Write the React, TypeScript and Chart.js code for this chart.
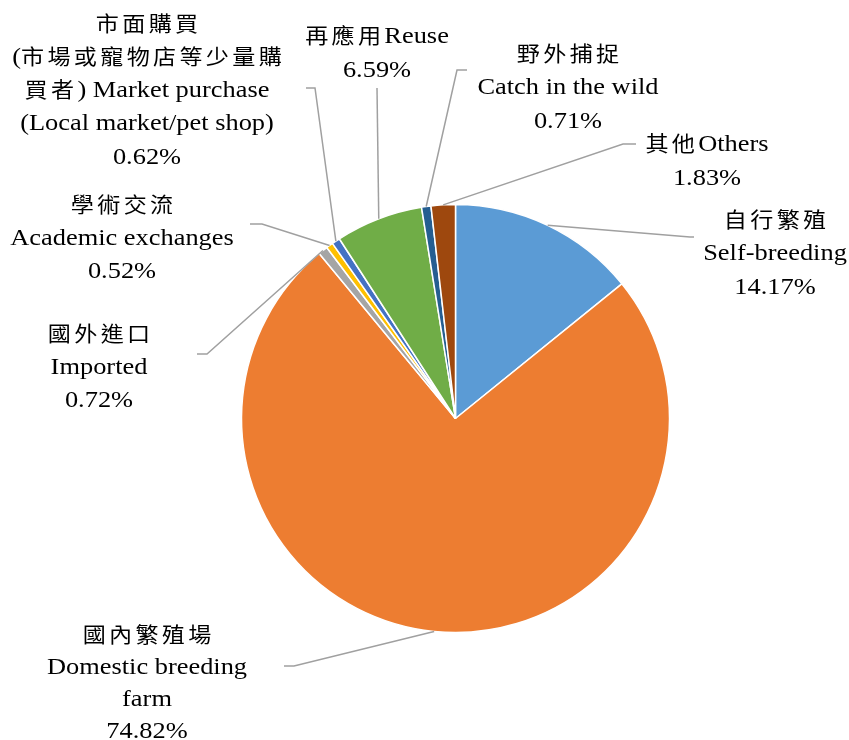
import { useEffect, useRef } from "react";
import { Chart, registerables } from "chart.js";

Chart.register(...registerables);

// ---- data ----
const categories = [
  "自行繁殖 Self-breeding",
  "國內繁殖場 Domestic breeding farm",
  "國外進口 Imported",
  "學術交流 Academic exchanges",
  "市面購買 Market purchase",
  "再應用 Reuse",
  "野外捕捉 Catch in the wild",
  "其他 Others",
];
const values = [14.17, 74.82, 0.72, 0.52, 0.62, 6.59, 0.71, 1.83];
const labelTexts = [
  ["自行繁殖", "Self-breeding"],
  ["國內繁殖場", "Domestic breeding", "farm"],
  ["國外進口", "Imported"],
  ["學術交流", "Academic exchanges"],
  ["市面購買", "(市場或寵物店等少量購", "買者) Market purchase", "(Local market/pet shop)"],
  ["再應用Reuse"],
  ["野外捕捉", "Catch in the wild"],
  ["其他Others"],
];
const colors = ["#5B9BD5", "#ED7D31", "#A5A5A5", "#FFC000", "#4472C4", "#70AD47", "#255E91", "#9E480E"];

// ---- layout (label placement) ----
const labelLayout = [
  { cx: 775, y0: 218, lh: 33.5, elbow: [690, 237], end: [694, 237] },
  { cx: 147, y0: 633, lh: 32, elbow: [294, 666], end: [284, 666] },
  { cx: 99, y0: 332, lh: 33, elbow: [207, 354], end: [197, 354] },
  { cx: 122, y0: 203, lh: 33, elbow: [262, 224], end: [250, 224] },
  { cx: 147, y0: 22, lh: 33.3, elbow: [315, 88], end: [306, 88] },
  { cx: 377, y0: 34, lh: 34, elbow: [377, 88], end: [377, 88] },
  { cx: 568, y0: 52, lh: 33.5, elbow: [457, 70], end: [467, 70] },
  { cx: 707, y0: 142, lh: 34, elbow: [623, 144], end: [636, 144] },
];

const SX = 1.1;
const LATIN_FONT = "24px 'Liberation Serif', 'Times New Roman', serif";
const CJK_FONT = "21px 'Noto Sans CJK TC', 'Noto Sans CJK SC', sans-serif";
const CJK_SPACING = 3;
const isCJK = (ch: string) => /[\u2e80-\u9fff\uf900-\ufaff\uff00-\uffef\u3000-\u303f]/.test(ch);

function splitRuns(text: string) {
  const runs: { t: string; cjk: boolean }[] = [];
  for (const ch of text) {
    const c = isCJK(ch);
    if (runs.length && runs[runs.length - 1].cjk === c) runs[runs.length - 1].t += ch;
    else runs.push({ t: ch, cjk: c });
  }
  return runs;
}

function setFont(ctx: CanvasRenderingContext2D, cjk: boolean) {
  ctx.font = cjk ? CJK_FONT : LATIN_FONT;
  (ctx as any).letterSpacing = cjk ? `${CJK_SPACING}px` : "0px";
}

function drawMixed(ctx: CanvasRenderingContext2D, text: string, cx: number, baseline: number) {
  const runs = splitRuns(text);
  ctx.save();
  const widths = runs.map((r) => {
    setFont(ctx, r.cjk);
    return ctx.measureText(r.t).width;
  });
  let total = widths.reduce((a, b) => a + b, 0);
  if (runs.length && runs[runs.length - 1].cjk) total -= CJK_SPACING;
  ctx.translate(cx - (total * SX) / 2, baseline);
  ctx.scale(SX, 1);
  ctx.fillStyle = "#000";
  ctx.textBaseline = "alphabetic";
  ctx.textAlign = "left";
  let xx = 0;
  runs.forEach((r, k) => {
    setFont(ctx, r.cjk);
    ctx.fillText(r.t, xx, 0);
    xx += widths[k];
  });
  ctx.restore();
}

const labelPlugin = {
  id: "pieLabels",
  afterDraw(chart: any) {
    const ctx: CanvasRenderingContext2D = chart.ctx;
    const meta = chart.getDatasetMeta(0);
    meta.data.forEach((arc: any, i: number) => {
      const p = arc.getProps(["x", "y", "startAngle", "endAngle", "outerRadius"], true);
      const mid = (p.startAngle + p.endAngle) / 2;
      const ax = p.x + Math.cos(mid) * p.outerRadius;
      const ay = p.y + Math.sin(mid) * p.outerRadius;
      const lay = labelLayout[i];
      ctx.save();
      ctx.strokeStyle = "#A0A0A0";
      ctx.lineWidth = 1.5;
      ctx.beginPath();
      ctx.moveTo(ax, ay);
      ctx.lineTo(lay.elbow[0], lay.elbow[1]);
      ctx.lineTo(lay.end[0], lay.end[1]);
      ctx.stroke();
      ctx.restore();
      const lines = [...labelTexts[i], `${values[i].toFixed(2)}%`];
      lines.forEach((line, j) => drawMixed(ctx, line, lay.cx, lay.y0 + j * lay.lh + 8.5));
    });
  },
};

export default function App() {
  const ref = useRef<HTMLCanvasElement | null>(null);
  useEffect(() => {
    if (!ref.current) return;
    const chart = new Chart(ref.current, {
      type: "pie",
      data: {
        labels: categories,
        datasets: [
          {
            data: values,
            backgroundColor: colors,
            borderColor: "#FFFFFF",
            borderWidth: 1.5,
            hoverOffset: 0,
            radius: 214,
          } as any,
        ],
      },
      options: {
        responsive: false,
        animation: false,
        layout: { padding: { left: 241.5, right: 179.5, top: 204.5, bottom: 107.5 } },
        plugins: { legend: { display: false }, tooltip: { enabled: false } },
        events: [],
      },
      plugins: [labelPlugin],
    });
    if ((document as any).fonts?.ready) {
      (document as any).fonts.ready.then(() => chart.draw());
    }
    return () => chart.destroy();
  }, []);
  return (
    <div style={{ position: "absolute", left: 0, top: 0, width: 849, height: 740, background: "#fff" }}>
      <canvas ref={ref} width={849} height={740} style={{ width: 849, height: 740, display: "block" }} />
    </div>
  );
}
